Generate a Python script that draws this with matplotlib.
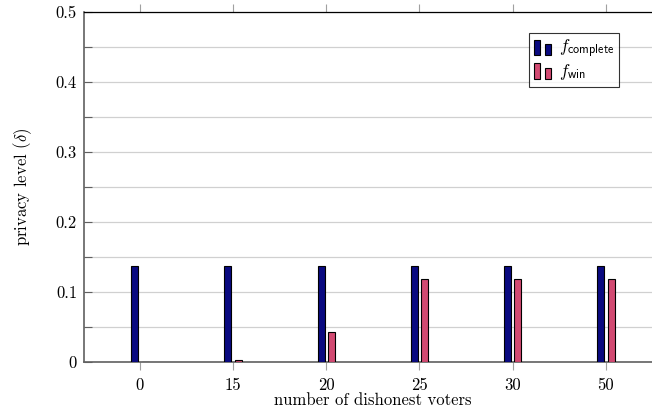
import matplotlib
matplotlib.use("Agg")
import matplotlib.pyplot as plt
import numpy as np
from matplotlib.patches import Rectangle
from matplotlib.legend_handler import HandlerBase

plt.rcParams['font.family'] = 'cmr10'
plt.rcParams['mathtext.fontset'] = 'cm'
plt.rcParams['axes.formatter.use_mathtext'] = True

categories = ['0', '15', '20', '25', '30', '50']
f_complete = [0.1367, 0.1367, 0.1367, 0.1367, 0.1367, 0.1367]
f_win = [0.0005, 0.0025, 0.0434, 0.1177, 0.1177, 0.1177]
yticks = [0, 0.1, 0.2, 0.3, 0.4, 0.5]
ytick_labels = ['0', '0.1', '0.2', '0.3', '0.4', '0.5']

blue = '#0a0a80'
pink = '#d24a72'

W, H = 652, 416
fig = plt.figure(figsize=(W / 100, H / 100), dpi=100)
left, right, bottom, top = 84, 661.7, 362, 11.5
ax = fig.add_axes([left / W, 1 - bottom / H, (right - left) / W, (bottom - top) / H])

x = np.arange(len(categories))
bw = 0.075
off = 0.056
ax.bar(x - off, f_complete, width=bw, color=blue, edgecolor='black', linewidth=0.8, zorder=3)
ax.bar(x + off, f_win, width=bw, color=pink, edgecolor='black', linewidth=0.8, zorder=3)

ax.set_xlim(-0.6, 5.6)
ax.set_ylim(0, 0.5)
ax.set_xticks(x)
ax.set_xticklabels(categories)
ax.set_yticks(yticks)
ax.set_yticklabels(ytick_labels)
ax.set_yticks(np.arange(0.05, 0.5, 0.1), minor=True)

ax.grid(axis='y', which='both', color='#d0d0d0', linewidth=0.9, zorder=0)
ax.set_axisbelow(True)

ax.tick_params(axis='x', which='major', direction='out', length=6, width=0.8,
               color='#a0a0a0', top=True, bottom=True, labelsize=12, pad=5)
ax.tick_params(axis='y', which='both', direction='in', length=6, width=0.8,
               color='#606060', labelsize=12, pad=5)

for s in ['left', 'bottom']:
    ax.spines[s].set_color('#606060')
    ax.spines[s].set_linewidth(1.2)
ax.spines['top'].set_color('black')
ax.spines['top'].set_linewidth(0.9)
ax.spines['right'].set_visible(False)

ax.set_xlabel('number of dishonest voters', fontsize=12, labelpad=0)
ax.set_ylabel(r'privacy level ($\delta$)', fontsize=12, labelpad=16)


class BarHandler(HandlerBase):
    def __init__(self, color):
        super().__init__()
        self.color = color

    def create_artists(self, legend, orig_handle, xdescent, ydescent, width, height, fontsize, trans):
        bwid = width * 0.33
        y0 = -ydescent - height * 0.2
        r1 = Rectangle((-xdescent, y0), bwid, height * 1.25,
                       facecolor=self.color, edgecolor='black', linewidth=0.8, transform=trans)
        r2 = Rectangle((-xdescent + width * 0.65, y0), bwid, height * 0.87,
                       facecolor=self.color, edgecolor='black', linewidth=0.8, transform=trans)
        return [r1, r2]


h1 = Rectangle((0, 0), 1, 1)
h2 = Rectangle((0, 0), 1, 1)
leg = ax.legend([h1, h2], [r'$f_{\mathsf{complete}}\ \ $', r'$f_{\mathsf{win}}$'],
                handler_map={h1: BarHandler(blue), h2: BarHandler(pink)},
                loc='upper left', bbox_to_anchor=((529 - left) / (right - left), 1 - (32.7 - top) / (bottom - top)),
                fontsize=12.5, frameon=True, fancybox=False, edgecolor='black',
                handlelength=1.0, handletextpad=0.45, borderpad=0.28, labelspacing=0.1,
                borderaxespad=0)
leg.get_frame().set_linewidth(0.8)

fig.savefig('out.png', dpi=100)
